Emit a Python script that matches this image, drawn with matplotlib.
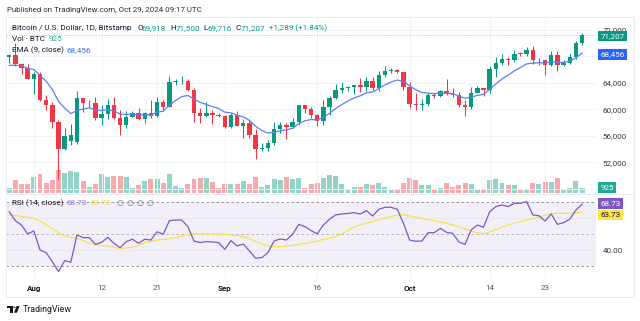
import matplotlib
matplotlib.use("Agg")
import matplotlib.pyplot as plt
import pandas as pd
from matplotlib.patches import Polygon, Circle, Rectangle
from matplotlib.lines import Line2D

# ---------------- data ----------------
dates = pd.date_range("2024-07-28", "2024-10-29", freq="D")

opens = [67850, 68250, 66800, 66190, 64620, 65350, 61450, 60690, 58110, 53990,
         55150, 55120, 61700, 60880, 60940, 58710, 59350, 60600, 58740, 57560,
         58880, 59480, 58450, 59490, 59000, 61160, 60400, 64090, 64190, 64240,
         62830, 59400, 59030, 59380, 59130, 58970, 57300, 59130, 57490, 57980,
         56160, 53960, 54150, 54840, 57040, 57650, 57340, 58130, 60570, 60000,
         59200, 58210, 60310, 61760, 62950, 63200, 63350, 63580, 63340, 64270,
         63140, 65180, 65790, 65890, 65630, 63330, 60840, 60630, 60750, 62080,
         62050, 62820, 62220, 62130, 60580, 60270, 62450, 63200, 62850, 66050,
         67040, 67610, 67380, 68380, 68360, 69000, 67360, 67380, 66650, 68160,
         66610, 67020, 67920, 69918]
highs = [68300, 69990, 67000, 66800, 65600, 65600, 62200, 61100, 58300, 57100,
         57700, 62700, 61750, 61450, 61850, 60700, 61600, 61800, 59850, 59800,
         59700, 60250, 59600, 61400, 61800, 61400, 64950, 64500, 65000, 64500,
         63200, 60200, 61150, 59900, 59450, 59050, 59400, 59800, 58500, 58300,
         56950, 54850, 55300, 58100, 58050, 57990, 58600, 60650, 60660, 60400,
         59250, 61350, 62000, 63850, 64100, 63550, 63600, 64750, 64800, 64800,
         65800, 66500, 66250, 66100, 65650, 64150, 62400, 61500, 62500, 62380,
         62950, 64500, 63200, 62550, 61350, 63350, 63450, 63250, 66500, 67900,
         68400, 67950, 68950, 68650, 69400, 69500, 67800, 67450, 68800, 68750,
         67400, 68350, 70250, 71500]
lows = [67000, 66500, 65300, 64530, 62300, 61200, 59850, 57200, 49500, 53900,
        54600, 54700, 59600, 60280, 58300, 57650, 58450, 58450, 56100, 57100,
        58800, 58400, 57850, 58600, 58800, 59800, 60350, 63600, 63800, 62800,
        58100, 57850, 58800, 57800, 58750, 57200, 57150, 57450, 55600, 55700,
        52550, 53750, 53650, 54600, 56400, 55550, 57200, 57650, 59450, 58700,
        57500, 57650, 59200, 61600, 62400, 62800, 62300, 62650, 62700, 62950,
        62700, 64850, 65450, 65450, 62900, 60200, 59950, 59850, 60470, 61680,
        61850, 62150, 61850, 60350, 58900, 60050, 62400, 62050, 62450, 64800,
        66700, 66700, 67150, 68100, 68100, 66800, 66600, 65100, 66450, 65700,
        66550, 66800, 67600, 69716]
closes = [68250, 66800, 66190, 64620, 65350, 61450, 60690, 58110, 53990, 56030,
          56050, 61700, 60880, 60940, 58710, 59350, 60600, 58740, 57560, 58880,
          59480, 58450, 59490, 59000, 61160, 60400, 64090, 64190, 64240, 62830,
          59400, 59030, 59380, 59130, 58970, 57300, 59130, 57490, 57980, 56160,
          53960, 54150, 54840, 57040, 57650, 57340, 58130, 60570, 60000, 59200,
          58210, 60310, 61760, 62950, 63200, 63350, 63580, 63340, 64270, 63140,
          65180, 65790, 65890, 65630, 63330, 60840, 60630, 60750, 62080, 62050,
          62820, 62220, 62130, 60580, 60270, 62450, 63200, 62850, 66050, 67040,
          67610, 67380, 68380, 68360, 69000, 67360, 67380, 66650, 68160, 66610,
          67020, 67920, 69918, 71207]
volumes = [925, 2275, 1520, 1520, 2800, 3270, 1700, 2275, 3970, 3550,
           3800, 3675, 2100, 1050, 1520, 3270, 2800, 2975, 2975, 2800,
           930, 1400, 2100, 2500, 2500, 1800, 3270, 1225, 930, 1520,
           2400, 2680, 2540, 1960, 875, 1630, 1630, 1520, 2100, 1520,
           2850, 1100, 1350, 2500, 2275, 2850, 2500, 2570, 930, 1520,
           1700, 2680, 3100, 2975, 1630, 750, 1050, 1100, 1630, 1350,
           1700, 1050, 750, 580, 1715, 2680, 2275, 1400, 1400, 525,
           930, 1750, 1100, 1400, 1750, 1575, 750, 750, 2310, 2415,
           1700, 1435, 1400, 525, 735, 1785, 1645, 1870, 2010, 2625,
           580, 840, 2065, 925]
ema9 = [66600, 66640, 66550, 66160, 66000, 65090, 64210, 62990, 61190, 60160,
        59340, 59810, 60020, 60200, 59900, 59790, 59950, 59710, 59280, 59200,
        59260, 59100, 59180, 59140, 59540, 59710, 60590, 61310, 61890, 62080,
        61540, 61040, 60710, 60390, 60110, 59550, 59460, 59070, 58850, 58310,
        57440, 56780, 56400, 56520, 56750, 56870, 57120, 57810, 58250, 58440,
        58390, 58780, 59370, 60090, 60710, 61240, 61710, 62030, 62480, 62610,
        63130, 63660, 64110, 64410, 64190, 63520, 62940, 62510, 62420, 62350,
        62440, 62400, 62340, 61990, 61650, 61810, 62090, 62240, 63000, 63810,
        64570, 65130, 65780, 66300, 66840, 66940, 67030, 66950, 67200, 67080,
        67070, 67240, 67770, 68456]
rsi = [64.1, 58.5, 55.8, 50.2, 52.1, 40.2, 38.5, 32.9, 26.6, 33.5,
       32.5, 49.6, 47.9, 47.9, 43.7, 45.0, 48.1, 44.4, 41.6, 45.4,
       46.9, 44.4, 46.9, 46.4, 51.6, 50.0, 58.5, 58.9, 58.9, 54.8,
       45.8, 44.8, 45.4, 45.2, 44.8, 40.6, 46.0, 42.7, 43.9, 39.6,
       35.0, 35.4, 38.5, 45.8, 47.1, 46.4, 50.0, 56.2, 54.8, 52.3,
       50.3, 55.8, 59.4, 62.1, 62.7, 63.1, 63.5, 62.7, 64.8, 61.4,
       65.6, 66.9, 66.9, 65.6, 56.9, 46.4, 45.6, 45.8, 51.0, 51.0,
       53.7, 51.2, 50.6, 45.2, 43.7, 52.7, 55.8, 54.4, 64.1, 67.3,
       68.3, 67.3, 69.4, 69.4, 70.4, 62.1, 61.6, 58.3, 62.7, 56.2,
       57.3, 59.4, 65.2, 68.73]
rsi_ma = [62.3, 61.8, 61.2, 60.6, 60.0, 58.2, 56.0, 53.5, 51.0, 49.0,
          48.1, 47.5, 46.0, 44.5, 43.5, 43.0, 42.6, 41.9, 41.2, 41.4,
          41.9, 43.2, 44.7, 45.6, 46.4, 46.7, 47.2, 48.0, 48.8, 49.8,
          50.2, 50.2, 50.2, 50.2, 50.1, 50.0, 49.6, 49.1, 48.5, 47.2,
          45.5, 44.0, 42.7, 42.3, 42.3, 42.6, 43.1, 43.6, 44.3, 45.0,
          45.7, 46.8, 47.6, 48.5, 50.2, 52.4, 54.6, 55.9, 57.0, 57.9,
          59.0, 60.1, 61.1, 62.0, 62.3, 61.5, 60.6, 59.9, 59.2, 58.5,
          57.7, 56.9, 55.8, 54.6, 53.4, 52.0, 51.0, 50.2, 51.5, 52.8,
          54.4, 55.8, 56.9, 57.9, 58.9, 59.8, 60.8, 61.8, 62.8, 63.1,
          63.1, 63.3, 63.5, 63.73]
tick_dates = ["2024-08-01", "2024-08-12", "2024-08-21", "2024-09-01",
              "2024-09-16", "2024-10-01", "2024-10-14", "2024-10-23"]
tick_labels = ["Aug", "12", "21", "Sep", "16", "Oct", "14", "23"]
price_grid = [48000, 52000, 56000, 60000, 64000, 68000, 72000]
price_labels = [52000, 56000, 60000, 64000, 72000]   # others hidden under tags
rsi_grid = [40, 60]
rsi_labels = [40]

# ---------------- style ----------------
UP, DOWN = "#089981", "#f23645"
TXT = "#131722"
AX_TXT = "#363a45"
GRID = "#f0f3fa"
plt.rcParams["font.family"] = ["Roboto", "DejaVu Sans"]
FS = 5.8
LFS = 5.9

W, H = 640, 321
fig = plt.figure(figsize=(6.4, 3.21), dpi=100)
fig.patch.set_facecolor("white")


def frac(x0, y0, x1, y1):
    return [x0 / W, 1 - y1 / H, (x1 - x0) / W, (y1 - y0) / H]


def px(x, y):
    return x / W, 1 - y / H


X0, X1 = 6, 596
idx = list(range(len(dates)))
date_pos = {d.strftime("%Y-%m-%d"): i for i, d in enumerate(dates)}
tick_idx = [date_pos[d] for d in tick_dates]
xl = ((X0 - 9.2) / 6.16, (X1 - 9.2) / 6.16)

# volume axes (bottom layer)
axv = fig.add_axes(frac(X0, 17, X1, 193))
axv.set_zorder(0)
ax = fig.add_axes(frac(X0, 17, X1, 193), sharex=axv)
ax.set_zorder(1)
ax.patch.set_visible(False)

up = [c >= o for o, c in zip(opens, closes)]
cols = [UP if u else DOWN for u in up]

axv.bar(idx, volumes, width=0.8, color=cols, alpha=0.43, linewidth=0)
axv.set_ylim(0, 176 * 175)
axv.set_xlim(*xl)
axv.axis("off")

# price grid
ax.set_ylim(47351, 73917)
ax.set_xlim(*xl)
for p in price_grid:
    ax.axhline(p, color=GRID, lw=0.7, zorder=0)
for t in tick_idx:
    ax.axvline(t, color=GRID, lw=0.7, zorder=0)

# candles
ax.vlines(idx, lows, highs, colors=cols, linewidth=0.75, zorder=2)
bottoms = [min(o, c) for o, c in zip(opens, closes)]
heights = [max(abs(c - o), 130) for o, c in zip(opens, closes)]
ax.bar(idx, heights, bottom=bottoms, width=0.72, color=cols, linewidth=0, zorder=3)

# EMA
ax.plot(idx, ema9, color="#5b7ff5", lw=0.9, zorder=4)
# last price line
ax.axhline(closes[-1], color=UP, lw=0.6, ls=(0, (1, 2)), alpha=0.6, zorder=1)

ax.yaxis.tick_right()
ax.set_yticks(price_labels)
ax.set_yticklabels([f"{p:,}" for p in price_labels])
ax.tick_params(axis="y", length=0, pad=5, labelsize=FS, labelcolor=AX_TXT)
ax.tick_params(axis="x", length=0, labelbottom=False)
for s in ax.spines.values():
    s.set_visible(False)

# ---------------- RSI pane ----------------
axr = fig.add_axes(frac(X0, 194, X1, 280), sharex=axv)
axr.set_ylim(21.4, 75.2)
axr.axhspan(30, 70, color="#7e57c2", alpha=0.09, lw=0, zorder=0)
for g in rsi_grid:
    axr.axhline(g, color="#e6e2ef", lw=0.6, zorder=1)
for t in tick_idx:
    axr.axvline(t, color=GRID, lw=0.7, zorder=0.5)
for lvl, a in [(70, 0.9), (50, 0.6), (30, 0.9)]:
    axr.axhline(lvl, color="#787b86", lw=0.6, ls=(0, (3, 3)), alpha=a, zorder=1)
axr.plot(idx, rsi_ma, color="#f5e14c", lw=0.9, zorder=3)
axr.plot(idx, rsi, color="#7e57c2", lw=0.9, zorder=4)
axr.yaxis.tick_right()
axr.set_yticks(rsi_labels)
axr.set_yticklabels([f"{g:.2f}" for g in rsi_labels])
axr.tick_params(axis="y", length=0, pad=5, labelsize=FS, labelcolor=AX_TXT)
axr.set_xticks(tick_idx)
axr.set_xticklabels(tick_labels)
axr.tick_params(axis="x", length=0, pad=3.6, labelsize=FS, labelcolor="#50535e")
for lab in axr.get_xticklabels():
    if lab.get_text() in ("Aug", "Sep", "Oct"):
        lab.set_fontweight("bold")
        lab.set_color(TXT)
for s in axr.spines.values():
    s.set_visible(False)
axr.set_xlim(*xl)

# ---------------- tags on the scales ----------------
def tag(axis, value, text, fc, tc="white", dy=0):
    axis.annotate(text, xy=(1, value), xycoords=("axes fraction", "data"),
                  xytext=(3.3, dy), textcoords="offset points", va="center", ha="left",
                  fontsize=FS, color=tc, annotation_clip=False, zorder=10,
                  bbox=dict(boxstyle="square,pad=0.28", fc=fc, ec="none"))


tag(ax, closes[-1], f"{closes[-1]:,}", UP, dy=-0.8)
tag(ax, ema9[-1], f"{ema9[-1]:,}", "#2962ff", dy=-0.8)
tag(axv, volumes[-1], f"{volumes[-1]}", "#22ab94")
tag(axr, rsi[-1], f"{rsi[-1]:.2f}", "#7e57c2", dy=0.6)
tag(axr, rsi_ma[-1], f"{rsi_ma[-1]:.2f}", "#f9e54a", tc=TXT, dy=-2.0)

# ---------------- frame lines ----------------
fig.add_artist(Rectangle(px(6, 297), 628 / W, 280 / H, transform=fig.transFigure,
                         fill=False, ec="#e9ebf0", lw=0.7))
fig.add_artist(Line2D([6 / W, 634 / W], [1 - 193.5 / H] * 2, color="#e9ebf0", lw=0.7))

# ---------------- texts ----------------
fig.text(*px(7, 10), "Published on TradingView.com, Oct 29, 2024 09:17 UTC",
         fontsize=5.7, color="#2a2e39", va="center")

y1 = 28.3
fig.text(*px(11.7, y1), "Bitcoin / U.S. Dollar, 1D, Bitstamp", fontsize=LFS, color=TXT, va="center")
segs = [(137.4, "O", TXT), (141.7, f"{opens[-1]:,}", UP), (170.6, "H", TXT),
        (175.6, f"{highs[-1]:,}", UP), (203.7, "L", TXT), (207.4, f"{lows[-1]:,}", UP),
        (235.8, "C", TXT), (240.2, f"{closes[-1]:,}", UP),
        (269.3, f"+{closes[-1]-opens[-1]:,} (+{(closes[-1]-opens[-1])/opens[-1]*100:.2f}%)", UP)]
for x, s, c in segs:
    fig.text(*px(x, y1), s, fontsize=LFS, color=c, va="center")

fig.text(*px(11.7, 39), "Vol · BTC", fontsize=LFS, color=TXT, va="center")
fig.text(*px(49, 39), f"{volumes[-1]}", fontsize=LFS, color="#22ab94", va="center")
fig.text(*px(11.7, 50), "EMA (9, close)", fontsize=LFS, color=TXT, va="center")
fig.text(*px(66.7, 50), f"{ema9[-1]:,}", fontsize=LFS, color="#3d6ef5", va="center")

yr = 203.3
fig.text(*px(11.7, yr), "RSI (14, close)", fontsize=LFS, color=TXT, va="center")
fig.text(*px(66.7, yr), f"{rsi[-1]:.2f}", fontsize=LFS, color="#9575cd", va="center")
fig.text(*px(90.7, yr), f"{rsi_ma[-1]:.2f}", fontsize=LFS, color="#f0d94a", va="center")
for x in (116.0, 126.0, 136.0, 146.0):
    fig.text(*px(x, yr), "∅", fontsize=LFS, color="#787b86", va="center",
             family=["DejaVu Sans"])

# footer logo + text
logo = "#131722"
fig.add_artist(Polygon([px(7, 306), px(12.6, 306), px(12.6, 312.7), px(10.2, 312.7),
                        px(10.2, 308.4), px(7, 308.4)], closed=True,
                       transform=fig.transFigure, fc=logo, ec="none"))
fig.add_artist(Circle(px(14.4, 307.3), 1.2 / W, transform=fig.transFigure, fc=logo, ec="none"))
fig.add_artist(Polygon([px(16.6, 306), px(19.6, 306), px(17.0, 312.7), px(14.0, 312.7)],
                       closed=True, transform=fig.transFigure, fc=logo, ec="none"))
fig.text(*px(22.8, 309.3), "TradingView", fontsize=6.4, color=logo, va="center")

fig.savefig("out.png", dpi=100, facecolor="white")
